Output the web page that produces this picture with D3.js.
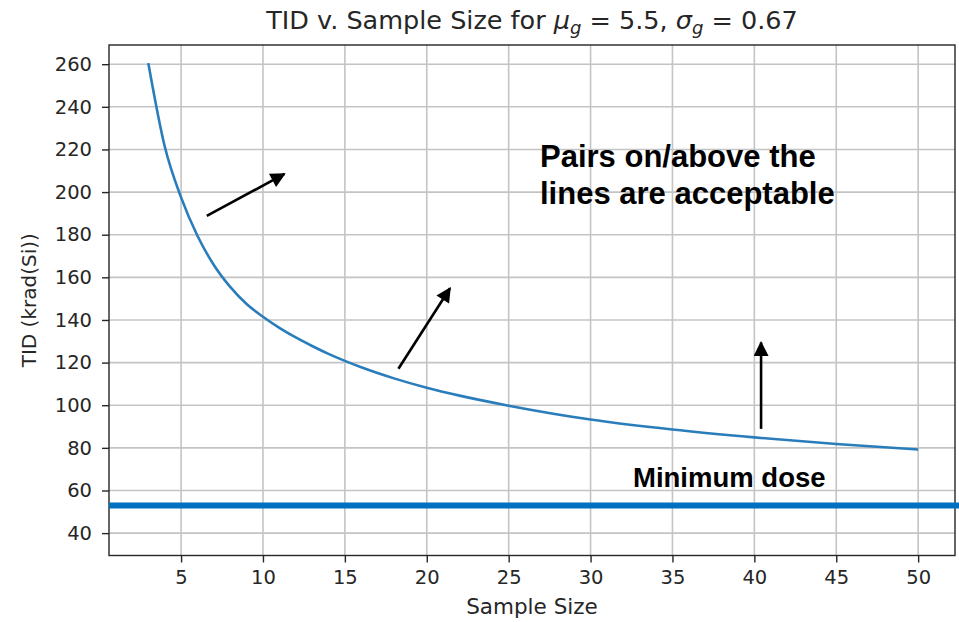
<!DOCTYPE html>
<html>
<head>
<meta charset="utf-8">
<script src="https://cdn.jsdelivr.net/npm/d3@7"></script>
<style>
  html, body { margin: 0; padding: 0; background: #fff; }
</style>
</head>
<body>
<div id="drawing"></div>
<script>
const WIDTH  = 959;
const HEIGHT = 622;

const PLOT = {
  left:   109,
  right:  955,
  top:    45,
  bottom: 555.5
};

const COLORS = {
  curve: '#2a7dbb',
  dose:  '#0070c0',
  grid:  '#c4c4c4',
  frame: '#262626',
  text:  '#262626'
};

const AXIS_FONT = 'DejaVu Sans, sans-serif';
const NOTE_FONT = 'Liberation Sans, Arial, sans-serif';

// Sample size vs TID
var sampleSize = [3, 4, 5, 6, 7, 8, 9, 10, 11, 12, 13, 14, 15, 16, 18, 20, 22, 25, 30, 35, 40, 45, 50];
var tid        = [260.5, 221.5, 197.5, 179.5, 165.8, 155.5, 147.5, 141.5, 136.3, 131.8, 127.8, 124.1, 120.8, 117.8, 112.6, 108.2, 104.5, 99.8, 93.3, 88.6, 84.9, 81.8, 79.2];

var xTicks = [5, 10, 15, 20, 25, 30, 35, 40, 45, 50];
var yTicks = [40, 60, 80, 100, 120, 140, 160, 180, 200, 220, 240, 260];

var minDose = 52.9;

// Arrow annotations, [n, TID] for tail and tip
var arrowTails = [[6.57, 188.8], [18.27, 117.1], [40.41, 88.9]];
var arrowTips  = [[11.31, 208.5], [21.42, 154.9], [40.41, 129.4]];

var noteLines = ['Pairs on/above the', 'lines are acceptable'];
var doseLabel = 'Minimum dose';



var x = d3.scaleLinear()
  .domain([0.6, 52.25])
  .range([PLOT.left, PLOT.right]);
var y = d3.scaleLinear()
  .domain([29.5, 269])
  .range([PLOT.bottom, PLOT.top]);

var svg = d3.select('#drawing').append('svg')
  .attr('width', WIDTH)
  .attr('height', HEIGHT)
  .style('display', 'block')
  .style('background-color', '#fff');

svg.append('defs').append('marker')
    .attr('id', 'head')
    .attr('viewBox', '0 0 10 10')
    .attr('refX', 9)
    .attr('refY', 5)
    .attr('markerUnits', 'userSpaceOnUse')
    .attr('markerWidth', 17)
    .attr('markerHeight', 15)
    .attr('orient', 'auto')
  .append('path')
    .attr('d', 'M0,0 L10,5 L0,10 Z')
    .style('fill', '#000');

// Grid
svg.append('g')
    .selectAll('line')
    .data(xTicks)
  .enter().append('line')
    .attr('x1', d => x(d))
    .attr('x2', d => x(d))
    .attr('y1', PLOT.top)
    .attr('y2', PLOT.bottom)
    .style('stroke', COLORS.grid)
    .style('stroke-width', 1.6);

svg.append('g')
    .selectAll('line')
    .data(yTicks)
  .enter().append('line')
    .attr('x1', PLOT.left)
    .attr('x2', PLOT.right)
    .attr('y1', d => y(d))
    .attr('y2', d => y(d))
    .style('stroke', COLORS.grid)
    .style('stroke-width', 1.6);

// Axes
var xAxis = svg.append('g')
  .attr('transform', `translate(0,${PLOT.bottom})`)
  .call(d3.axisBottom(x).tickValues(xTicks).tickSize(7).tickPadding(8));
var yAxis = svg.append('g')
  .attr('transform', `translate(${PLOT.left},0)`)
  .call(d3.axisLeft(y).tickValues(yTicks).tickSize(7).tickPadding(10));

for (let ax of [xAxis, yAxis]) {
  ax.select('.domain').remove();
  ax.selectAll('line')
    .style('stroke', COLORS.frame)
    .style('stroke-width', 1.4);
  ax.selectAll('text')
    .style('fill', COLORS.text)
    .style('font-family', AXIS_FONT)
    .style('font-size', '19.5px');
}

// Frame
svg.append('rect')
  .attr('x', PLOT.left)
  .attr('y', PLOT.top)
  .attr('width', PLOT.right - PLOT.left)
  .attr('height', PLOT.bottom - PLOT.top)
  .style('fill', 'none')
  .style('stroke', COLORS.frame)
  .style('stroke-width', 1.4);

// TID curve
var line = d3.line()
  .x((d, i) => x(sampleSize[i]))
  .y(d => y(d))
  .curve(d3.curveMonotoneX);

svg.append('path')
  .datum(tid)
  .attr('d', line)
  .style('fill', 'none')
  .style('stroke', COLORS.curve)
  .style('stroke-width', 2.6);

// Minimum dose line (runs past the frame)
svg.append('line')
  .attr('x1', PLOT.left)
  .attr('x2', WIDTH)
  .attr('y1', y(minDose))
  .attr('y2', y(minDose))
  .style('stroke', COLORS.dose)
  .style('stroke-width', 6);

// Arrows
svg.append('g')
    .selectAll('line')
    .data(arrowTails)
  .enter().append('line')
    .attr('x1', d => x(d[0]))
    .attr('y1', d => y(d[1]))
    .attr('x2', (d, i) => x(arrowTips[i][0]))
    .attr('y2', (d, i) => y(arrowTips[i][1]))
    .style('stroke', '#000')
    .style('stroke-width', 2.6)
    .attr('marker-end', 'url(#head)');

// Notes
svg.append('text')
    .attr('x', 540)
    .attr('y', 166.5)
    .style('font-family', NOTE_FONT)
    .style('font-weight', 'bold')
    .style('font-size', '31px')
    .style('fill', '#000')
    .selectAll('tspan')
    .data(noteLines)
  .enter().append('tspan')
    .attr('x', 540)
    .attr('dy', (d, i) => i ? 37.5 : 0)
    .text(d => d);

svg.append('text')
  .attr('x', 633)
  .attr('y', 487)
  .style('font-family', NOTE_FONT)
  .style('font-weight', 'bold')
  .style('font-size', '27.5px')
  .style('fill', '#000')
  .text(doseLabel);

// Title with mathtext-like subscripts
var title = svg.append('text')
  .attr('x', (PLOT.left + PLOT.right) / 2)
  .attr('y', 29)
  .attr('text-anchor', 'middle')
  .style('font-family', AXIS_FONT)
  .style('font-size', '25.5px')
  .style('fill', COLORS.text);

title.append('tspan').text('TID v. Sample Size for ');
title.append('tspan').style('font-style', 'italic').text('μ');
title.append('tspan').style('font-style', 'italic').style('font-size', '18px').attr('dy', 5).text('g');
title.append('tspan').attr('dy', -5).text(' = 5.5, ');
title.append('tspan').style('font-style', 'italic').text('σ');
title.append('tspan').style('font-style', 'italic').style('font-size', '18px').attr('dy', 5).text('g');
title.append('tspan').attr('dy', -5).text(' = 0.67');

// Axis labels
svg.append('text')
  .attr('x', (PLOT.left + PLOT.right) / 2)
  .attr('y', 614)
  .attr('text-anchor', 'middle')
  .style('font-family', AXIS_FONT)
  .style('font-size', '21.5px')
  .style('fill', COLORS.text)
  .text('Sample Size');

svg.append('text')
  .attr('transform', `translate(36,${(PLOT.top + PLOT.bottom) / 2}) rotate(-90)`)
  .attr('text-anchor', 'middle')
  .style('font-family', AXIS_FONT)
  .style('font-size', '20px')
  .style('fill', COLORS.text)
  .text('TID (krad(Si))');
</script>
</body>
</html>
